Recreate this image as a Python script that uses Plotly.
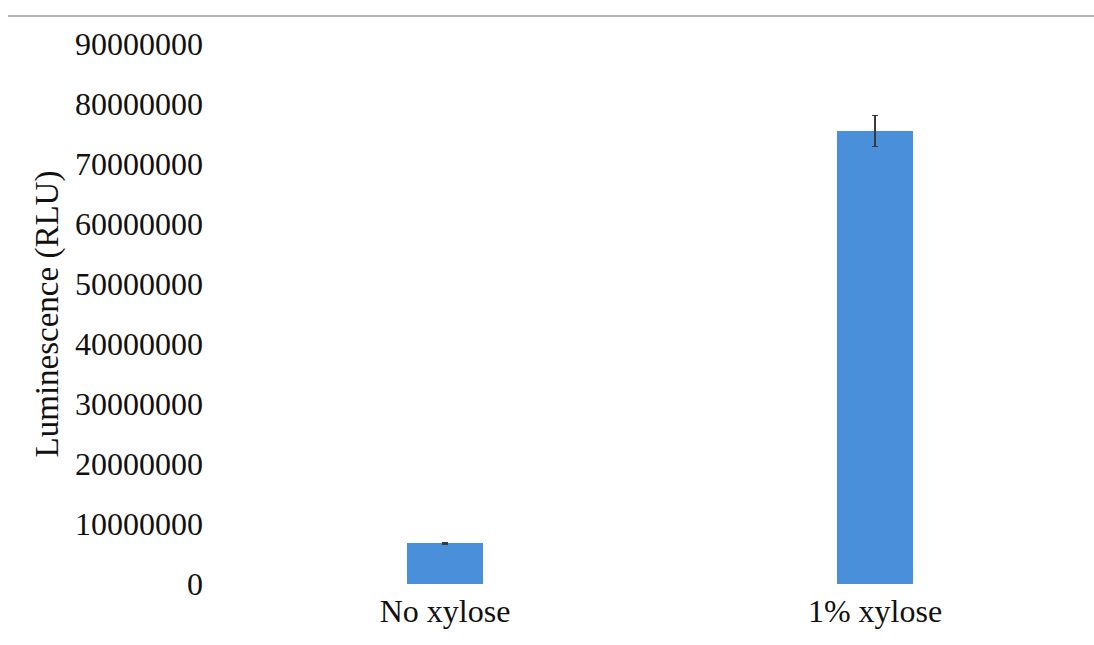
import plotly.graph_objects as go

# Luciferase reporter output with and without xylose induction
conditions = ["No xylose", "1% xylose"]
luminescence = [6800000, 75500000]
luminescence_err = [150000, 2600000]
y_ticks = [0, 10000000, 20000000, 30000000, 40000000, 50000000,
           60000000, 70000000, 80000000, 90000000]

W, H = 1094, 645
M_L, M_R, M_T, M_B = 230, 4, 44, 61
plot_w = W - M_L - M_R
plot_h = H - M_T - M_B

font_family = "Liberation Serif, Times New Roman, serif"

fig = go.Figure(
    go.Bar(
        x=conditions,
        y=luminescence,
        width=0.177,
        marker=dict(color="#4a8fd9", line=dict(width=0)),
        error_y=dict(type="data", array=luminescence_err, visible=True,
                     color="#3a3a3a", thickness=1.5, width=3),
    )
)

# thin grey rule across the top of the figure
fig.add_shape(
    type="line", xref="paper", yref="paper",
    x0=(8 - M_L) / plot_w, x1=(W - M_L) / plot_w,
    y0=1 + (M_T - 16) / plot_h, y1=1 + (M_T - 16) / plot_h,
    line=dict(color="#b4b4b4", width=2),
)

fig.update_layout(
    width=W, height=H,
    margin=dict(l=M_L, r=M_R, t=M_T, b=M_B, pad=0),
    paper_bgcolor="white", plot_bgcolor="white",
    font=dict(family=font_family, size=32, color="#111111"),
    showlegend=False,
    bargap=0,
)
fig.update_xaxes(
    range=[-0.5, 1.5], showgrid=False, showline=False, zeroline=False,
    ticks="", tickfont=dict(size=32), ticklabelstandoff=5,
)
fig.update_yaxes(
    range=[0, 90000000], tickvals=y_ticks,
    ticktext=[str(v) for v in y_ticks],
    showgrid=False, showline=False, zeroline=False, ticks="",
    tickfont=dict(size=32), ticklabelstandoff=26,
    title=dict(text="Luminescence (RLU)", font=dict(size=33), standoff=6),
)

fig.write_html("out.html")
